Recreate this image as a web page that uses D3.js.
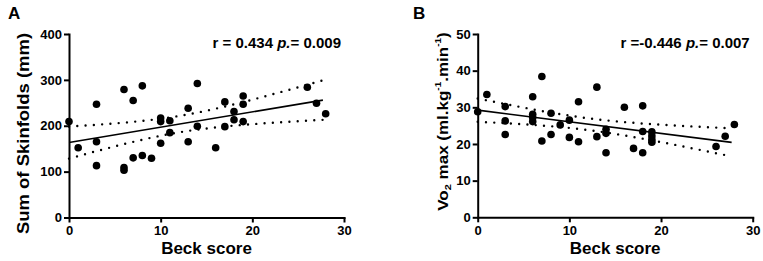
<!DOCTYPE html>
<html>
<head>
<meta charset="utf-8">
<script src="https://cdn.jsdelivr.net/npm/d3@7"></script>
<style>
  body { margin: 0; background: #fff; }
  svg { display: block; font-family: "Liberation Sans", Arial, sans-serif; font-weight: bold; }
  .axis path, .axis line { stroke: #000; stroke-width: 2; }
  .axis text { font-size: 13px; font-weight: bold; fill: #000; font-family: "Liberation Sans", Arial, sans-serif; }
  .x-title { font-size: 17px; }
  .panel-label { font-size: 17px; }
  .stat { font-size: 15px; }
</style>
</head>
<body>
<svg id="chart"></svg>
<script>
// Beck score (x) shared tick values
const xTicks = [0, 10, 20, 30];

// Panel A: Beck score vs sum of skinfolds (mm)
const beckA = [0, 1, 3, 3, 3, 6, 6, 6, 7, 7, 8, 8, 9, 10, 10, 10, 11, 11,
  13, 13, 14, 14, 16, 17, 17, 18, 18, 19, 19, 19, 26, 27, 28];
const skinfolds = [209, 152, 247, 165, 113, 279, 109, 103, 255, 130, 287, 135, 129, 217, 209, 162, 211, 185,
  238, 165, 292, 199, 152, 252, 198, 231, 213, 265, 247, 209, 284, 249, 226];
const yTicksA = [0, 100, 200, 300, 400];

// Panel B: Beck score vs VO2 max
const beckB = [0, 1, 3, 3, 3, 6, 6, 6, 6, 7, 7, 8, 8, 9, 10, 10, 11, 11, 13, 13,
  14, 14, 14, 16, 17, 18, 18, 18, 19, 19, 19, 19, 26, 27, 28];
const vo2max = [28.8, 33.5, 30.2, 26.3, 22.6, 32.9, 28.1, 27.2, 26.1, 38.4, 20.8, 28.4, 22.6, 25.2, 26.5, 21.8, 31.5, 20.6, 35.5, 22.0,
  24.0, 22.9, 17.6, 30.0, 18.8, 30.4, 23.4, 17.6, 23.3, 22.2, 21.2, 20.5, 19.3, 22.1, 25.3];
const yTicksB = [0, 10, 20, 30, 40, 50];

const svg = d3.select('#chart')
    .attr('width', 763)
    .attr('height', 261);

// least squares fit with 95% confidence band
function fitLine(xs, ys) {
    const n = xs.length;
    const mx = d3.mean(xs), my = d3.mean(ys);
    let sxx = 0, sxy = 0;
    xs.forEach((x, i) => { sxx += (x - mx) ** 2; sxy += (x - mx) * (ys[i] - my); });
    const slope = sxy / sxx;
    const icept = my - slope * mx;
    let sse = 0;
    xs.forEach((x, i) => { sse += (ys[i] - icept - slope * x) ** 2; });
    const s = Math.sqrt(sse / (n - 2));
    const t = 2.035;
    const f = x => icept + slope * x;
    const half = x => t * s * Math.sqrt(1 / n + (x - mx) ** 2 / sxx);
    return { f, half };
}

class ScatterPanel {
    constructor(cfg) {
        this.cfg = cfg;
        this.initVis();
    }

    initVis() {
        let vis = this;
        const c = vis.cfg;

        vis.xScale = d3.scaleLinear().domain([0, 30]).range([c.left, c.right]);
        vis.yScale = d3.scaleLinear().domain([0, c.yMax]).range([c.bottom, c.top]);

        vis.g = svg.append('g');

        vis.g.append('g')
            .attr('class', 'axis x-axis')
            .attr('transform', `translate(0,${c.bottom})`)
            .call(d3.axisBottom(vis.xScale).tickValues(xTicks).tickSize(5).tickPadding(3).tickSizeOuter(0));

        vis.g.append('g')
            .attr('class', 'axis y-axis')
            .attr('transform', `translate(${c.left},0)`)
            .call(d3.axisLeft(vis.yScale).tickValues(c.yTicks).tickSize(5).tickPadding(2).tickSizeOuter(0));

        vis.g.selectAll('.domain').attr('stroke-linecap', 'square');

        // regression line + dotted confidence band
        const fit = fitLine(c.xs, c.ys);
        const xs = d3.range(0, c.fitEnd + 0.001, c.fitEnd / 60);
        const line = d3.line().x(d => vis.xScale(d[0])).y(d => vis.yScale(d[1]));

        [1, -1].forEach(sign => {
            vis.g.append('path')
                .attr('d', line(xs.map(x => [x, fit.f(x) + sign * fit.half(x)])))
                .attr('fill', 'none').attr('stroke', '#000')
                .attr('stroke-width', 2.4).attr('stroke-linecap', 'round')
                .attr('stroke-dasharray', '0 8.3');
        });
        vis.g.append('path')
            .attr('d', line([[0, fit.f(0)], [c.fitEnd, fit.f(c.fitEnd)]]))
            .attr('fill', 'none').attr('stroke', '#000').attr('stroke-width', 1.6);

        vis.g.selectAll('.point')
            .data(c.xs.map((x, i) => [x, c.ys[i]]))
            .join('circle')
            .attr('class', 'point')
            .attr('cx', d => vis.xScale(d[0]))
            .attr('cy', d => vis.yScale(d[1]))
            .attr('r', 3.8)
            .attr('fill', '#000');

        // titles
        vis.g.append('text')
            .attr('class', 'x-title')
            .attr('x', (c.left + c.right) / 2)
            .attr('y', 254)
            .attr('text-anchor', 'middle')
            .text('Beck score');

        vis.g.append('text')
            .attr('class', 'panel-label')
            .attr('x', c.labelX)
            .attr('y', 19)
            .text(c.label);

        const st = vis.g.append('text')
            .attr('class', 'stat')
            .attr('x', c.right - 3)
            .attr('y', 47.7)
            .attr('text-anchor', 'end');
        st.append('tspan').text(c.rText + ' ');
        st.append('tspan').attr('font-style', 'italic').text('p.');
        st.append('tspan').text('= ' + c.pText);

        // rotated title, glyphs slightly narrower as in the original
        c.yTitle(vis.g.append('text')
            .attr('font-size', c.yTitleSize)
            .attr('text-anchor', 'middle')
            .attr('transform', `translate(${c.yTitleX},${c.yTitleY}) rotate(-90) scale(1,0.88)`));
    }
}

new ScatterPanel({
    xs: beckA, ys: skinfolds, yMax: 400, yTicks: yTicksA,
    left: 69, right: 344, top: 34, bottom: 217.5, fitEnd: 27.7,
    label: 'A', labelX: 8,
    rText: 'r = 0.434', pText: '0.009',
    yTitleX: 28.5, yTitleY: 133.5, yTitleSize: 18.5,
    yTitle: t => t.text('Sum of Skinfolds (mm)')
});

new ScatterPanel({
    xs: beckB, ys: vo2max, yMax: 50, yTicks: yTicksB,
    left: 477.7, right: 752.7, top: 34, bottom: 217.3, fitEnd: 27.7,
    label: 'B', labelX: 413,
    rText: 'r =-0.446', pText: '0.007',
    yTitleX: 447.5, yTitleY: 121.5, yTitleSize: 17,
    yTitle: t => {
        t.append('tspan').text('Vo');
        t.append('tspan').attr('font-size', '11px').attr('dy', 4).text('2');
        t.append('tspan').attr('dy', -4).text(' max  (ml.kg');
        t.append('tspan').attr('font-size', '10px').attr('dy', -7).text('-1');
        t.append('tspan').attr('dy', 7).text('.min');
        t.append('tspan').attr('font-size', '10px').attr('dy', -7).text('-1');
        t.append('tspan').attr('dy', 7).text(')');
    }
});
</script>
</body>
</html>
